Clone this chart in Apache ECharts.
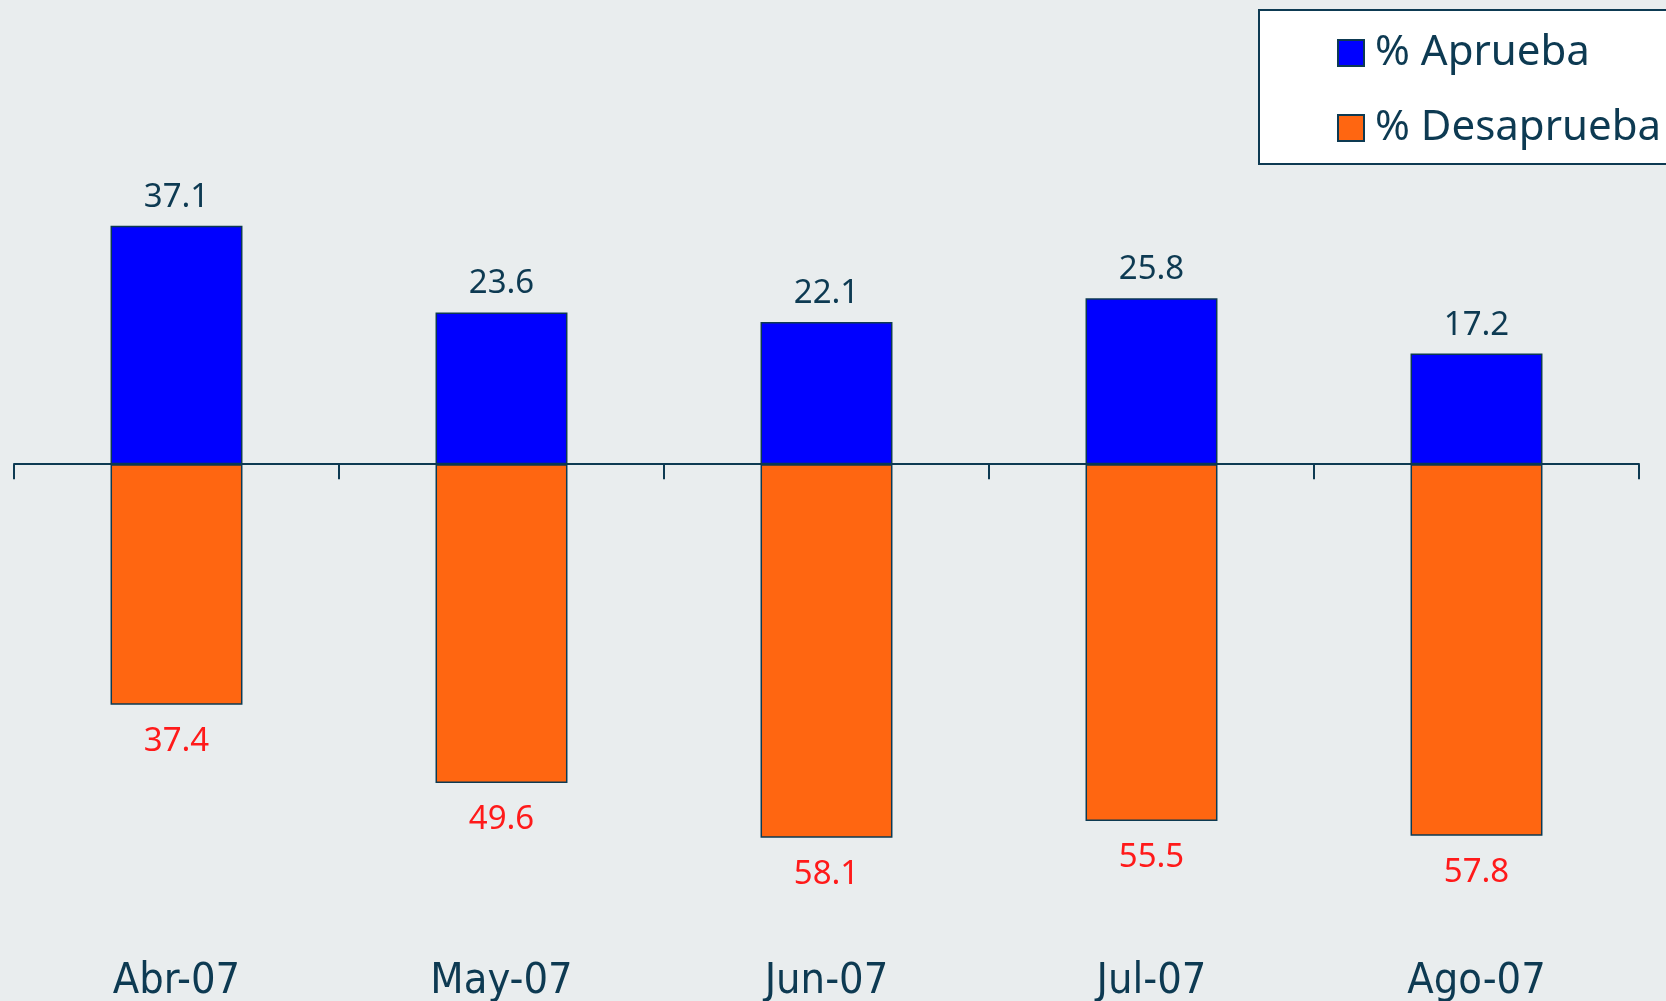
<!DOCTYPE html>
<html>
<head>
<meta charset="utf-8">
<script src="https://cdn.jsdelivr.net/npm/echarts@6/dist/echarts.min.js"></script>
<style>
  html, body { margin: 0; padding: 0; background: #e9edee; }
  #chart { width: 1666px; height: 1001px; }
</style>
</head>
<body>
<div id="chart"></div>
<script>
// meses
const months = ['Abr-07', 'May-07', 'Jun-07', 'Jul-07', 'Ago-07'];
const aprueba = [37.1, 23.6, 22.1, 25.8, 17.2];
const desaprueba = [37.4, 49.6, 58.1, 55.5, 57.8];

const navy = '#0d3a52';

const myChart = echarts.init(document.getElementById('chart'));

const option = {
  backgroundColor: '#e9edee',
  animation: false,
  legend: {
    orient: 'vertical',
    left: 1259,
    top: 10,
    backgroundColor: '#ffffff',
    borderColor: navy,
    borderWidth: 2,
    padding: [20, 120, 13, 78],
    itemGap: 29,
    itemWidth: 26,
    itemHeight: 26,
    icon: 'rect',
    textStyle: {
      fontFamily: 'Noto Sans',
      fontSize: 42,
      color: navy,
      lineHeight: 46,
      padding: [0, 0, 0, 6]
    },
    data: ['% Aprueba', '% Desaprueba']
  },
  grid: { left: 14, right: 27, top: 207, bottom: 61, outerBoundsMode: 'none', containLabel: false },
  xAxis: [
    {
      // linea del cero con ticks
      type: 'category',
      data: months,
      axisLine: { onZero: true, lineStyle: { color: navy, width: 2 } },
      axisTick: { show: true, length: 15, lineStyle: { color: navy, width: 2 } },
      axisLabel: { show: false }
    },
    {
      // etiquetas abajo
      type: 'category',
      data: months,
      position: 'bottom',
      axisLine: { show: false, onZero: false },
      axisTick: { show: false },
      axisLabel: {
        margin: 20,
        fontFamily: "'DejaVu Sans Condensed', 'Liberation Sans Narrow', 'Liberation Sans'",
        fontSize: 43,
        lineHeight: 43,
        color: navy
      }
    }
  ],
  yAxis: {
    type: 'value',
    min: -74,
    max: 40,
    show: false,
    splitLine: { show: false }
  },
  series: [
    {
      name: '% Aprueba',
      type: 'bar',
      stack: 'total',
      barWidth: '40.6%',
      data: aprueba,
      itemStyle: { color: '#0000ff', borderColor: navy, borderWidth: 1.5 },
      label: {
        show: true,
        position: 'top',
        distance: 12,
        fontFamily: 'Noto Sans',
        fontSize: 33,
        color: navy
      }
    },
    {
      name: '% Desaprueba',
      type: 'bar',
      stack: 'total',
      barWidth: '40.6%',
      data: desaprueba.map(v => -v),
      itemStyle: { color: '#ff6611', borderColor: navy, borderWidth: 1.5 },
      label: {
        show: true,
        position: 'bottom',
        distance: 20,
        fontFamily: 'Noto Sans',
        fontSize: 33,
        color: '#ff1a1a',
        formatter: p => Math.abs(p.value).toFixed(1)
      }
    }
  ]
};

myChart.setOption(option);
</script>
</body>
</html>
